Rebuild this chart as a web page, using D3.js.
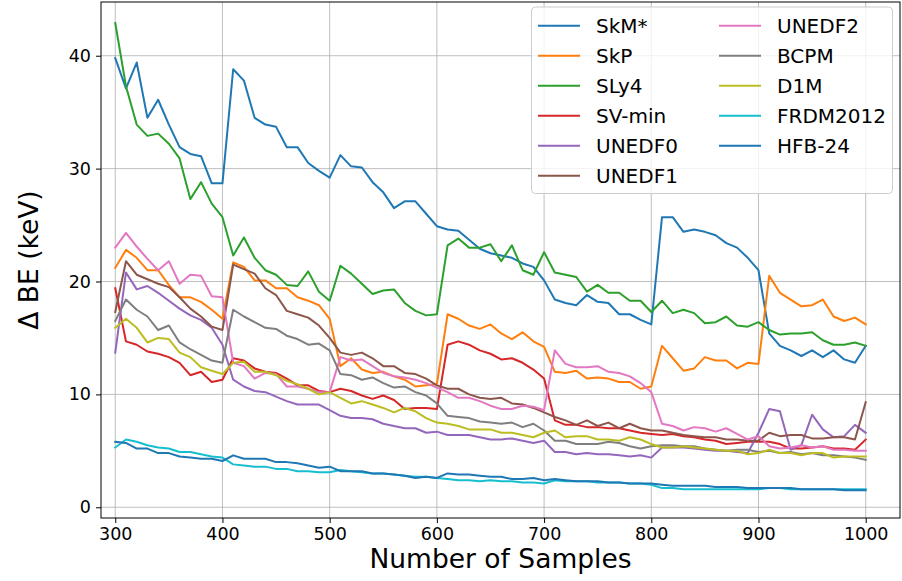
<!DOCTYPE html>
<html><head><meta charset="utf-8">
<script src="https://cdn.jsdelivr.net/npm/d3@7"></script>
<style>body{margin:0;background:#fff}svg{display:block}text{font-family:"DejaVu Sans",sans-serif}</style>
</head><body><svg id="c" width="902" height="581"></svg>
<script>
const samples = d3.range(300, 1001, 10);
const xTicks = [300,400,500,600,700,800,900,1000];
const yTicks = [0,10,20,30,40];
const seriesNames = ["SkM*","SkP","SLy4","SV-min","UNEDF0","UNEDF1","UNEDF2","BCPM","D1M","FRDM2012","HFB-24"];
const colors = ["#1f77b4","#ff7f0e","#2ca02c","#d62728","#9467bd","#8c564b","#e377c2","#7f7f7f","#bcbd22","#17becf","#1f77b4"];

const skm = [39.8,37.1,39.4,34.5,36.1,33.9,31.9,31.3,31.1,28.7,28.7,
 38.8,37.8,34.5,33.9,33.7,31.9,31.9,30.5,29.8,29.2,
 31.2,30.2,30.1,28.8,27.9,26.5,27.1,27.1,26.0,24.9,
 24.6,24.5,23.7,22.9,22.5,22.3,22.1,21.6,21.3,20.1,
 18.4,18.1,17.9,18.8,18.2,18.1,17.1,17.1,16.6,16.2,
 25.7,25.7,24.4,24.6,24.4,24.1,23.4,23.0,22.1,21.0,
 15.4,14.3,13.9,13.4,13.9,13.3,13.9,13.1,12.8,14.3];
const skp = [21.2,22.8,22.1,21.0,21.0,19.7,18.6,18.6,18.2,17.5,16.7,
 21.7,21.3,20.1,20.1,19.4,19.4,18.6,18.3,17.9,16.7,
 12.5,13.2,12.2,11.9,12.0,11.6,11.3,10.7,10.8,10.9,
 17.1,16.7,16.1,15.8,16.2,15.4,14.9,15.5,14.7,14.2,
 12.0,11.9,12.1,11.4,11.5,11.4,11.1,11.1,10.5,10.7,
 14.3,13.2,12.1,12.3,13.3,13.0,13.0,12.3,12.8,12.7,
 20.5,19.0,18.4,17.8,17.9,18.4,16.9,16.5,16.8,16.2];
const sly4 = [42.9,37.3,33.9,32.9,33.1,32.2,30.9,27.3,28.8,26.9,25.7,
 22.3,23.9,22.1,21.0,20.6,19.7,19.6,20.9,19.1,18.3,
 21.4,20.7,19.8,18.9,19.2,19.3,18.1,17.4,17.0,17.1,
 23.2,23.8,23.0,23.0,23.3,21.8,23.2,21.0,20.6,22.6,
 20.8,20.6,20.4,19.1,19.7,19.0,19.0,18.3,18.3,17.3,
 18.3,17.2,17.5,17.2,16.3,16.4,16.9,16.1,16.0,16.4,
 15.7,15.3,15.4,15.4,15.5,14.8,14.4,14.4,14.6,14.3];
const svmin = [19.4,14.7,14.4,13.8,13.6,13.3,12.8,11.7,12.0,11.1,11.3,
 13.2,13.0,12.3,12.0,11.9,11.4,10.8,10.8,10.3,10.2,
 10.5,10.3,9.9,9.6,9.9,9.5,8.7,8.8,8.8,8.7,
 14.4,14.7,14.4,13.9,13.6,13.1,13.2,12.8,12.2,11.4,
 7.7,7.3,7.3,7.1,7.1,7.0,7.0,6.8,6.6,6.5,
 6.4,6.5,6.3,6.2,6.0,5.9,5.6,5.7,5.8,5.8,
 5.8,5.6,5.2,5.2,5.3,5.4,5.2,5.2,5.1,6.0];
const unedf0 = [13.7,20.8,19.3,19.6,19.0,18.3,17.6,17.0,16.6,15.9,14.4,
 11.3,10.7,10.3,10.2,9.8,9.4,9.1,9.1,9.1,8.6,
 8.1,7.9,7.9,7.8,7.4,7.2,7.0,7.0,6.6,6.7,
 6.4,6.4,6.4,6.2,6.0,6.0,6.1,5.9,5.7,5.9,
 4.9,4.9,4.7,4.8,4.7,4.7,4.6,4.5,4.6,4.4,
 5.3,5.3,5.3,5.2,5.1,5.0,5.0,4.9,4.8,6.6,
 8.7,8.5,5.1,5.5,8.2,6.9,6.2,6.3,7.3,6.6];
const unedf1 = [17.3,21.8,20.6,20.2,19.8,19.5,18.6,17.6,16.9,16.0,15.7,
 21.5,21.1,20.7,19.4,18.8,17.4,17.1,16.8,16.1,15.0,
 13.7,13.5,13.7,13.2,12.5,12.5,11.9,11.8,11.4,10.8,
 10.5,10.5,10.0,9.7,9.6,9.7,9.2,9.1,8.8,8.4,
 8.0,7.7,7.3,7.7,7.2,7.5,7.0,7.4,7.0,6.8,
 6.8,6.6,6.4,6.3,6.2,6.2,6.0,6.0,5.9,5.9,
 6.6,6.3,6.4,6.4,6.1,6.1,6.2,6.2,6.0,9.3];
const unedf2 = [23.0,24.3,23.1,22.0,21.0,21.8,19.8,20.6,20.5,18.7,18.6,
 12.8,12.5,11.4,11.9,11.8,10.7,10.7,10.5,10.2,10.2,
 13.3,13.0,13.1,12.5,11.9,11.6,11.5,11.3,11.0,10.6,
 10.2,9.7,9.7,9.4,9.0,8.7,8.7,9.0,8.9,8.6,
 13.9,12.7,12.4,12.4,12.5,12.0,11.9,11.6,11.0,10.2,
 7.4,7.2,6.8,7.1,7.0,6.7,7.0,6.5,6.0,6.3,
 5.4,5.2,5.3,5.5,5.3,5.4,5.1,5.1,5.0,5.0];
const bcpm = [16.5,18.4,17.5,16.9,15.7,16.1,14.6,14.0,13.5,13.0,12.8,
 17.5,16.9,16.4,15.9,15.8,15.2,14.9,14.4,14.5,13.9,
 11.8,11.7,11.3,11.5,11.0,10.6,10.7,10.2,9.9,9.2,
 8.1,8.0,7.9,7.6,7.5,7.4,7.5,7.1,7.4,6.8,
 5.9,5.9,5.6,5.6,5.6,5.8,5.7,5.4,5.2,5.4,
 5.5,5.5,5.4,5.4,5.2,5.1,5.0,5.1,5.1,4.9,
 5.0,4.8,4.9,4.7,4.8,4.6,4.6,4.5,4.4,4.2];
const d1m = [15.9,16.7,15.9,14.6,15.0,14.9,13.7,13.3,12.4,12.1,11.8,
 12.8,12.9,12.0,12.0,11.7,11.2,10.9,10.5,10.0,10.2,
 9.7,9.2,9.4,9.1,8.8,8.4,8.8,8.5,7.9,7.5,
 7.4,7.2,6.9,6.9,6.9,6.6,6.6,6.4,6.2,6.6,
 6.8,6.2,6.3,6.3,6.0,6.0,5.9,6.2,6.0,5.6,
 5.3,5.3,5.4,5.3,5.2,5.1,5.0,5.0,4.7,4.8,
 5.1,4.8,4.8,4.6,4.8,4.8,4.4,4.5,4.5,4.5];
const frdm = [5.3,6.0,5.8,5.5,5.3,5.2,4.9,4.9,4.7,4.5,4.4,
 3.8,3.7,3.6,3.6,3.4,3.4,3.2,3.2,3.1,3.1,
 3.3,3.2,3.1,3.0,3.0,2.9,2.8,2.7,2.7,2.6,
 2.5,2.4,2.4,2.3,2.4,2.3,2.3,2.2,2.2,2.1,
 2.4,2.3,2.3,2.3,2.2,2.2,2.2,2.1,2.1,2.0,
 1.7,1.7,1.6,1.6,1.6,1.6,1.6,1.6,1.6,1.6,
 1.7,1.7,1.6,1.6,1.6,1.6,1.6,1.6,1.6,1.6];
const hfb = [5.8,5.7,5.2,5.2,4.8,4.8,4.5,4.4,4.3,4.3,4.1,
 4.6,4.3,4.3,4.3,4.0,4.0,3.9,3.7,3.5,3.6,
 3.2,3.2,3.2,3.0,3.0,2.9,2.8,2.6,2.7,2.6,
 3.0,2.9,2.9,2.8,2.7,2.7,2.5,2.5,2.6,2.4,
 2.5,2.4,2.3,2.3,2.3,2.2,2.2,2.1,2.1,2.1,
 2.0,1.9,1.9,1.9,1.9,1.8,1.8,1.8,1.7,1.7,
 1.7,1.7,1.7,1.6,1.6,1.6,1.6,1.5,1.5,1.5];
const seriesValues = [skm,skp,sly4,svmin,unedf0,unedf1,unedf2,bcpm,d1m,frdm,hfb];

const svg = d3.select("#c");
const L=101, R=900, T=2, B=518;
const x = d3.scaleLinear().domain([286.7,1032.0]).range([L,R]);
const y = d3.scaleLinear().domain([-0.95,44.76]).range([B,T]);

// grid
const g = svg.append("g");
g.selectAll(".gx").data(xTicks).enter().append("line")
 .attr("x1",d=>x(d)).attr("x2",d=>x(d)).attr("y1",T).attr("y2",B)
 .attr("stroke","#b0b0b0").attr("stroke-width",1).attr("opacity",0.8);
g.selectAll(".gy").data(yTicks).enter().append("line")
 .attr("y1",d=>y(d)).attr("y2",d=>y(d)).attr("x1",L).attr("x2",R)
 .attr("stroke","#b0b0b0").attr("stroke-width",1).attr("opacity",0.8);

// lines
const line = d3.line().x((d,i)=>x(samples[i])).y(d=>y(d));
seriesValues.forEach((vals,i)=>{
  svg.append("path").datum(vals).attr("d",line).attr("fill","none")
   .attr("stroke",colors[i]).attr("stroke-width",2).attr("stroke-linejoin","round").attr("stroke-linecap","square");
});

// frame
svg.append("rect").attr("x",L).attr("y",T).attr("width",R-L).attr("height",B-T)
 .attr("fill","none").attr("stroke","#000").attr("stroke-width",1);

// axes
const xa = svg.append("g").attr("transform",`translate(0,${B})`)
 .call(d3.axisBottom(x).tickValues(xTicks).tickSize(5).tickPadding(5).tickFormat(d3.format("d")));
const ya = svg.append("g").attr("transform",`translate(${L},0)`)
 .call(d3.axisLeft(y).tickValues(yTicks).tickSize(5).tickPadding(5).tickFormat(d3.format("d")));
[xa,ya].forEach(a=>{a.select(".domain").remove();
 a.selectAll("text").attr("font-size",17.5).attr("fill","#000").style("font-family","DejaVu Sans");
 a.selectAll("line").attr("stroke","#000");});

svg.append("text").attr("x",(L+R)/2).attr("y",568).attr("text-anchor","middle")
 .attr("font-size",26.5).text("Number of Samples");
svg.append("text").attr("transform",`translate(38,${(T+B)/2}) rotate(-90)`).attr("text-anchor","middle")
 .attr("font-size",26.5).text("Δ BE (keV)");

// legend
const lg = svg.append("g");
lg.append("rect").attr("x",531.5).attr("y",7).attr("width",361).attr("height",186.5).attr("rx",4)
 .attr("fill","#fff").attr("fill-opacity",0.8).attr("stroke","#cccccc").attr("stroke-width",1);
seriesNames.forEach((n,i)=>{
  const col = i<6?0:1, row = i<6?i:i-6;
  const lx = col===0?538:719, ty = 25.7+30*row;
  lg.append("line").attr("x1",lx).attr("x2",lx+42).attr("y1",ty).attr("y2",ty)
   .attr("stroke",colors[i]).attr("stroke-width",2);
  lg.append("text").attr("x",lx+58).attr("y",ty).attr("dy","0.36em").attr("font-size",20).text(n);
});
</script></body></html>
